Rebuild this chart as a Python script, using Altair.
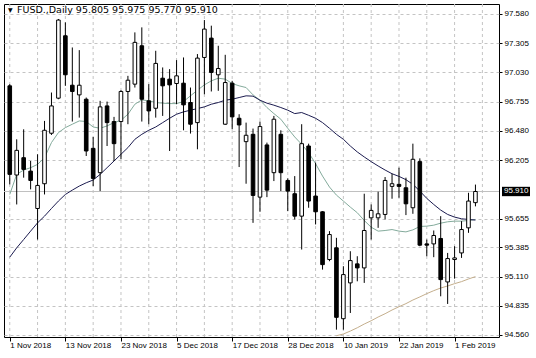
import altair as alt
import pandas as pd

# ---- candle data, 1 Nov 2018 .. 6 Feb 2019 (trading days) ----
opens = [96.904, 96.065, 96.228, 96.102, 95.750, 95.983, 96.458, 96.788, 97.375, 96.910,
         96.819, 96.778, 96.316, 96.087, 96.715, 96.568, 96.568, 96.851, 96.920, 97.281,
         96.763, 96.693, 96.976, 96.967, 96.926, 96.929, 96.747, 96.558, 97.171, 97.353,
         97.008, 96.543, 96.929, 96.599, 96.379, 96.448, 95.857, 96.348, 96.087, 96.448,
         96.014, 95.889, 95.678, 96.338, 95.867, 95.719, 95.270, 95.380, 94.713, 95.050,
         95.229, 95.191, 95.662, 95.662, 95.694, 95.958, 95.977, 95.945, 95.757, 96.191,
         95.417, 95.417, 95.468, 95.059, 95.270, 95.332, 95.568, 95.805]
highs = [96.920, 96.401, 96.495, 96.197, 96.260, 96.574, 96.841, 97.533, 97.501, 97.265,
         97.240, 96.794, 96.423, 96.763, 96.756, 96.612, 96.863, 96.998, 97.407, 97.454,
         96.920, 97.234, 97.077, 97.061, 97.146, 97.171, 96.888, 97.203, 97.523, 97.470,
         97.281, 97.196, 96.951, 96.637, 96.558, 96.502, 96.568, 96.370, 96.621, 96.486,
         96.033, 96.055, 96.543, 96.360, 96.181, 95.725, 95.537, 95.474, 95.207, 95.348,
         95.301, 95.889, 95.788, 95.908, 96.046, 96.077, 96.134, 96.040, 96.360, 96.222,
         95.458, 95.543, 95.678, 95.332, 95.395, 95.631, 95.898, 95.975]
lows = [95.977, 95.788, 96.040, 95.930, 95.458, 95.882, 96.442, 96.778, 96.904, 96.568,
        96.605, 96.244, 95.961, 95.914, 96.338, 96.197, 96.213, 96.543, 96.888, 96.568,
        96.543, 96.605, 96.621, 96.291, 96.731, 96.486, 96.455, 96.307, 96.825, 96.851,
        96.857, 96.536, 96.495, 96.140, 95.983, 95.615, 95.719, 95.857, 96.008, 95.914,
        95.725, 95.647, 95.364, 95.757, 95.600, 95.175, 95.254, 94.610, 94.610, 94.767,
        95.065, 95.050, 95.458, 95.568, 95.647, 95.842, 95.851, 95.688, 95.700, 95.395,
        95.301, 95.292, 94.924, 94.852, 95.090, 95.285, 95.521, 95.770]
closes = [96.071, 96.297, 96.118, 96.014, 95.967, 96.486, 96.715, 97.523, 97.008, 96.851,
          96.910, 96.291, 96.033, 96.706, 96.558, 96.360, 96.851, 96.957, 97.313, 96.778,
          96.668, 97.115, 96.904, 96.913, 96.998, 96.725, 96.543, 97.165, 97.438, 97.030,
          97.067, 96.935, 96.612, 96.536, 96.439, 95.873, 96.521, 95.923, 96.590, 96.087,
          95.914, 95.678, 96.360, 95.820, 95.719, 95.222, 95.505, 94.726, 95.128, 95.260,
          95.191, 95.543, 95.732, 95.700, 96.014, 95.983, 95.958, 95.794, 96.213, 95.405,
          95.405, 95.496, 95.081, 95.279, 95.285, 95.552, 95.820, 95.910]

# ---- moving averages ----
ma_fast = [95.882, 96.071, 96.112, 96.134, 96.165, 96.228, 96.370, 96.464, 96.511, 96.543,
           96.574, 96.568, 96.517, 96.505, 96.527, 96.558, 96.580, 96.637, 96.731, 96.772,
           96.763, 96.747, 96.741, 96.737, 96.737, 96.756, 96.810, 96.863, 96.913, 96.951,
           96.976, 96.967, 96.926, 96.904, 96.888, 96.819, 96.769, 96.700, 96.643, 96.590,
           96.505, 96.423, 96.354, 96.275, 96.172, 96.055, 95.952, 95.876, 95.820, 95.763,
           95.710, 95.637, 95.574, 95.537, 95.543, 95.552, 95.537, 95.530, 95.549, 95.581,
           95.584, 95.593, 95.612, 95.625, 95.631, 95.631, 95.637, 95.647]
ma_slow = [95.292, 95.380, 95.458, 95.537, 95.615, 95.678, 95.750, 95.820, 95.882, 95.923,
           95.961, 95.992, 96.018, 96.071, 96.134, 96.197, 96.260, 96.323, 96.401, 96.448,
           96.486, 96.517, 96.558, 96.599, 96.637, 96.659, 96.675, 96.690, 96.706, 96.731,
           96.747, 96.769, 96.778, 96.794, 96.810, 96.807, 96.769, 96.741, 96.722, 96.700,
           96.675, 96.643, 96.653, 96.627, 96.599, 96.558, 96.505, 96.448, 96.401, 96.338,
           96.282, 96.235, 96.191, 96.150, 96.112, 96.077, 96.052, 96.021, 95.977, 95.914,
           95.845, 95.788, 95.735, 95.694, 95.669, 95.653, 95.647, 95.641]
ma_long_start = 47
ma_long = [94.553, 94.569, 94.597, 94.628, 94.663, 94.694, 94.729, 94.760, 94.795, 94.826,
           94.855, 94.889, 94.918, 94.949, 94.977, 95.002, 95.021, 95.043, 95.062, 95.087,
           95.109]

# ---- axes / labels ----
tick_idx = [0, 8, 16, 24, 32, 40, 48, 56, 64]
tick_labels = ["1 Nov 2018", "13 Nov 2018", "23 Nov 2018", "5 Dec 2018", "17 Dec 2018",
               "28 Dec 2018", "10 Jan 2019", "22 Jan 2019", "1 Feb 2019"]
vgrid_idx = [0, 4, 8, 12, 16, 20, 24, 28, 32, 36, 40, 44, 48, 52, 56, 60, 64, 68]
price_ticks = [97.580, 97.305, 97.030, 96.755, 96.480, 96.205, 95.655, 95.385, 95.110,
               94.835, 94.560]
last_price = 95.910
title_text = "FUSD.,Daily  95.805 95.975 95.770 95.910"

FONT = "Liberation Sans"
GRID = "#c4c4c4"

n = len(opens)
df = pd.DataFrame({"i": list(range(n)), "o": opens, "h": highs, "l": lows, "c": closes})
df["up"] = df["c"] >= df["o"]
ma_df = pd.DataFrame({"i": list(range(n)), "fast": ma_fast, "slow": ma_slow})
long_df = pd.DataFrame({"i": list(range(ma_long_start, ma_long_start + len(ma_long))),
                        "v": ma_long})

xs = alt.Scale(domain=[-0.11, 69.67], nice=False, zero=False)
ys = alt.Scale(domain=[94.541, 97.674], nice=False, zero=False)

label_expr = " : ".join(f"datum.value == {i} ? '{t}'" for i, t in zip(tick_idx, tick_labels)) + " : ''"

x_axis = alt.Axis(values=tick_idx, labelExpr=label_expr, grid=False, domain=False,
                  ticks=True, tickSize=4, tickColor="black", labelAlign="left",
                  labelBaseline="top", labelPadding=0, labelFontSize=8, labelFont=FONT,
                  labelColor="black", labelOverlap=False, labelBound=False, labelFlush=False,
                  title=None)
y_axis = alt.Axis(orient="right", values=price_ticks, format=".3f", grid=True,
                  gridDash=[3, 3], gridColor=GRID, gridWidth=1, domain=False,
                  tickSize=3, tickColor="black", labelPadding=2, labelFontSize=8,
                  labelFont=FONT, labelColor="black", labelOverlap=False,
                  labelBound=False, labelFlush=False, title=None)


def X(field):
    return alt.X(field, scale=xs, axis=x_axis)


def Y(field):
    return alt.Y(field, scale=ys, axis=y_axis)


vgrid = alt.Chart(pd.DataFrame({"g": vgrid_idx})).mark_rule(
    color=GRID, strokeDash=[3, 3], strokeWidth=1
).encode(x=X("g:Q"))

price_line = alt.Chart(pd.DataFrame({"p": [last_price]})).mark_rule(
    color="#c0c0c0", strokeWidth=1
).encode(y=Y("p:Q"))

fast_line = alt.Chart(ma_df).mark_line(color="#84ab9c", strokeWidth=1, clip=True).encode(
    x=X("i:Q"), y=Y("fast:Q"))
slow_line = alt.Chart(ma_df).mark_line(color="#1c1c50", strokeWidth=1, clip=True).encode(
    x=X("i:Q"), y=Y("slow:Q"))
long_line = alt.Chart(long_df).mark_line(color="#c4ae8c", strokeWidth=1, clip=True).encode(
    x=X("i:Q"), y=Y("v:Q"))

wicks = alt.Chart(df).mark_rule(color="black", strokeWidth=1).encode(
    x=X("i:Q"), y=Y("l:Q"), y2="h:Q")

bodies = alt.Chart(df).mark_bar(size=3.6, stroke="black", strokeWidth=1).encode(
    x=X("i:Q"), y=Y("o:Q"), y2="c:Q",
    fill=alt.condition("datum.up", alt.value("white"), alt.value("black")))

box = alt.Chart(pd.DataFrame({"p": [last_price]})).transform_calculate(
    lo="datum.p - 0.044", hi="datum.p + 0.044"
).mark_rect(color="black", clip=False).encode(
    x=alt.value(498), x2=alt.value(526), y=Y("lo:Q"), y2="hi:Q")

box_text = alt.Chart(pd.DataFrame({"p": [last_price]})).mark_text(
    align="left", baseline="middle", color="white", fontSize=8, font=FONT, clip=False
).encode(x=alt.value(500), y=Y("p:Q"), text=alt.Text("p:Q", format=".3f"))

tri = alt.Chart(pd.DataFrame({"t": ["▼"]})).mark_text(
    align="left", baseline="middle", color="black", fontSize=6, font="DejaVu Sans"
).encode(x=alt.value(4), y=alt.value(6), text="t:N")

title = alt.Chart(pd.DataFrame({"t": [title_text]})).mark_text(
    align="left", baseline="middle", color="black", fontSize=9.5, font="DejaVu Sans"
).encode(x=alt.value(13), y=alt.value(6), text="t:N")

chart = alt.layer(
    vgrid, price_line, long_line, fast_line, slow_line, wicks, bodies, box, box_text, tri, title
).properties(
    width=495, height=333,
    autosize=alt.AutoSizeParams(type="none"),
    padding={"left": 4, "top": 4, "right": 37, "bottom": 21},
    background="white",
).configure_view(stroke="black", strokeWidth=1
).configure_axis(labelOverlap=False)

chart.save("out.html", embed_options={"renderer": "svg", "actions": False})
